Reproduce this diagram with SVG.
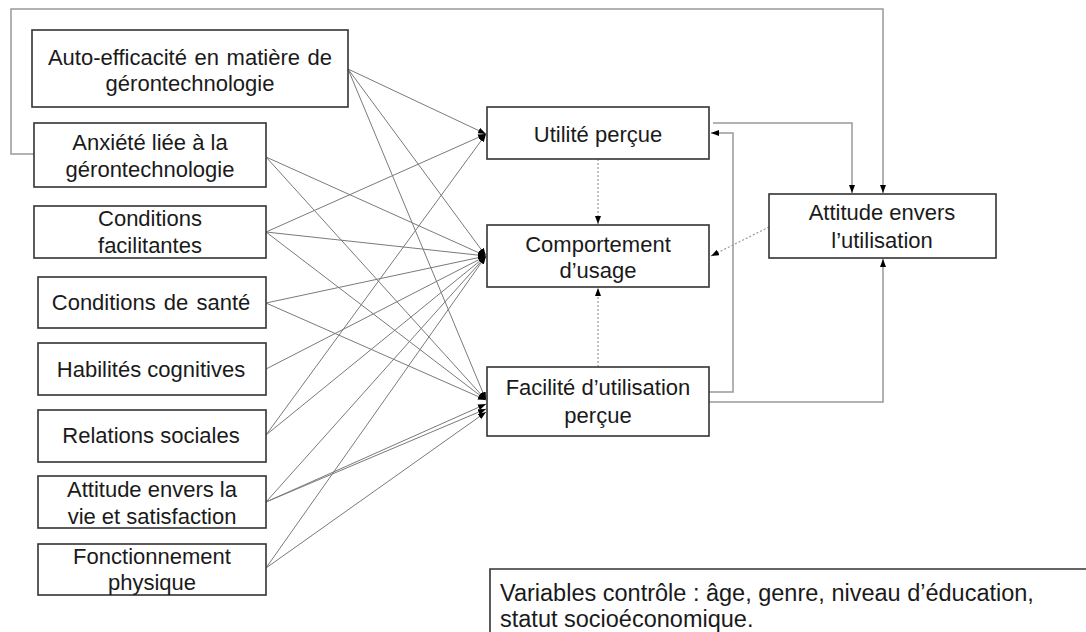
<svg xmlns="http://www.w3.org/2000/svg" width="1086" height="632" viewBox="0 0 1086 632">
<style>
.box{fill:#fff;stroke:#333;stroke-width:1.6}
.t{font-family:"Liberation Sans",Arial,sans-serif;font-size:22px;fill:#1a1a1a;text-anchor:middle}
.tl{font-family:"Liberation Sans",Arial,sans-serif;font-size:23.5px;fill:#1a1a1a}
.c{fill:none;stroke:#7a7a7a;stroke-width:1}
.f{fill:none;stroke:#999;stroke-width:1.5}
.d{fill:none;stroke:#999;stroke-width:1.2;stroke-dasharray:2 2}
</style>
<defs>
<marker id="ah" viewBox="0 0 8 6" refX="8" refY="3" markerWidth="8" markerHeight="6" markerUnits="userSpaceOnUse" orient="auto">
<path d="M0,0 L8,3 L0,6 z" fill="#000"/>
</marker>
</defs>
<rect width="1086" height="632" fill="#fff"/>
<g id="connectors">
<line class="c" x1="348" y1="69" x2="486" y2="134" marker-end="url(#ah)"/>
<line class="c" x1="266" y1="232" x2="486" y2="134" marker-end="url(#ah)"/>
<line class="c" x1="266" y1="435" x2="486" y2="134" marker-end="url(#ah)"/>
<line class="c" x1="348" y1="69" x2="486" y2="256" marker-end="url(#ah)"/>
<line class="c" x1="266" y1="157" x2="486" y2="256" marker-end="url(#ah)"/>
<line class="c" x1="266" y1="232" x2="486" y2="256" marker-end="url(#ah)"/>
<line class="c" x1="266" y1="303" x2="486" y2="256" marker-end="url(#ah)"/>
<line class="c" x1="266" y1="369" x2="486" y2="256" marker-end="url(#ah)"/>
<line class="c" x1="266" y1="435" x2="486" y2="256" marker-end="url(#ah)"/>
<line class="c" x1="266" y1="502" x2="486" y2="256" marker-end="url(#ah)"/>
<line class="c" x1="266" y1="568" x2="486" y2="256" marker-end="url(#ah)"/>
<line class="c" x1="348" y1="69" x2="486" y2="400" marker-end="url(#ah)"/>
<line class="c" x1="266" y1="157" x2="486" y2="400" marker-end="url(#ah)"/>
<line class="c" x1="266" y1="232" x2="486" y2="400" marker-end="url(#ah)"/>
<line class="c" x1="266" y1="303" x2="486" y2="400" marker-end="url(#ah)"/>
<line class="c" x1="266" y1="502" x2="486" y2="404" marker-end="url(#ah)"/>
<line class="c" x1="266" y1="502" x2="486" y2="409" marker-end="url(#ah)"/>
<line class="c" x1="266" y1="568" x2="486" y2="412" marker-end="url(#ah)"/>
<polyline class="f" points="34,154 11,154 11,9 883,9 883,193" marker-end="url(#ah)"/>
<polyline class="f" points="713,123 852,123 852,193" marker-end="url(#ah)"/>
<polyline class="f" points="709,392 733,392 733,133 711,133" marker-end="url(#ah)"/>
<polyline class="f" points="709,402 883,402 883,259" marker-end="url(#ah)"/>
<line class="d" x1="598" y1="159" x2="598" y2="224" marker-end="url(#ah)"/>
<line class="d" x1="598" y1="367" x2="598" y2="288" marker-end="url(#ah)"/>
<line class="d" x1="769" y1="227" x2="711" y2="256" marker-end="url(#ah)"/>
</g>
<g id="n-autoeff">
<rect class="box" x="32" y="30" width="316" height="77"/>
<text class="t" x="190" y="65" word-spacing="1.5">Auto-efficacité en matière de</text>
<text class="t" x="190" y="91">gérontechnologie</text>
</g>
<g id="n-anxiete">
<rect class="box" x="34" y="123" width="232" height="64"/>
<text class="t" x="150" y="150">Anxiété liée à la</text>
<text class="t" x="150" y="177">gérontechnologie</text>
</g>
<g id="n-condfac">
<rect class="box" x="34" y="206" width="232" height="52"/>
<text class="t" x="150" y="226">Conditions</text>
<text class="t" x="150" y="253">facilitantes</text>
</g>
<g id="n-sante">
<rect class="box" x="38" y="277" width="228" height="51"/>
<text class="t" x="151" y="310" word-spacing="2">Conditions de santé</text>
</g>
<g id="n-habil">
<rect class="box" x="38" y="343" width="228" height="52"/>
<text class="t" x="151" y="377">Habilités cognitives</text>
</g>
<g id="n-relations">
<rect class="box" x="38" y="410" width="228" height="52"/>
<text class="t" x="151" y="443">Relations sociales</text>
</g>
<g id="n-attvie">
<rect class="box" x="38" y="476" width="228" height="52"/>
<text class="t" x="152" y="497">Attitude envers la</text>
<text class="t" x="152" y="524">vie et satisfaction</text>
</g>
<g id="n-fonct">
<rect class="box" x="38" y="544" width="228" height="51"/>
<text class="t" x="152" y="564">Fonctionnement</text>
<text class="t" x="152" y="590">physique</text>
</g>
<g id="n-utilite">
<rect class="box" x="487" y="107" width="222" height="52"/>
<text class="t" x="598" y="142">Utilité perçue</text>
</g>
<g id="n-comport">
<rect class="box" x="487" y="225" width="222" height="62"/>
<text class="t" x="598" y="252">Comportement</text>
<text class="t" x="598" y="278">d’usage</text>
</g>
<g id="n-facilite">
<rect class="box" x="487" y="367" width="222" height="69"/>
<text class="t" x="598" y="395">Facilité d’utilisation</text>
<text class="t" x="598" y="423">perçue</text>
</g>
<g id="n-attitude">
<rect class="box" x="769" y="194" width="227" height="64"/>
<text class="t" x="882" y="220">Attitude envers</text>
<text class="t" x="882" y="248">l’utilisation</text>
</g>
<g id="n-controle">
<polyline fill="none" stroke="#333" stroke-width="1.6" points="490,640 490,569 1090,569"/>
<text class="tl" x="500" y="601">Variables contrôle : âge, genre, niveau d’éducation,</text>
<text class="tl" x="500" y="627">statut socioéconomique.</text>
</g>
</svg>
